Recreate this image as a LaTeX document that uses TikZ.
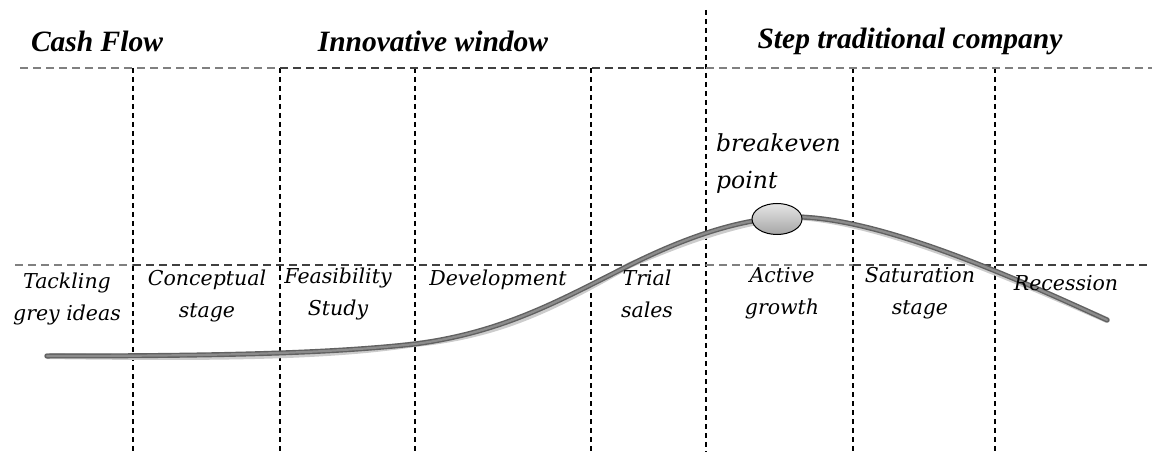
\documentclass[tikz,border=0pt]{standalone}
\usepackage{fontspec}
\setmainfont{Liberation Serif}
\newfontfamily\labfont{DejaVu Serif}
\usetikzlibrary{shapes.geometric}
\begin{document}
\begin{tikzpicture}[x=1pt,y=-1pt,
  vdash/.style={draw=black,line width=1.2pt,dash pattern=on 5pt off 4pt},
  hdash/.style={draw=black!75,line width=1.6pt,dash pattern=on 8pt off 5pt},
  hdashl/.style={draw=black!50,line width=1.6pt,dash pattern=on 8pt off 5pt},
  header/.style={font=\fontsize{29.5}{32}\selectfont\bfseries\itshape,inner sep=0pt},
  stage/.style={font=\labfont\fontsize{20.5}{32}\selectfont\itshape,align=center,inner sep=0pt},
  curve/.style={line cap=round}]
\useasboundingbox (0,0) rectangle (1152,457);
% grid coordinates
\coordinate (tl) at (20,68);  \coordinate (tr) at (1152,68);
\coordinate (ml) at (15,265); \coordinate (mr) at (1152,265);
\foreach \n/\x in {a/133,b/280,c/415,d/591,f/853,g/995}{
  \coordinate (\n t) at (\x,68); \coordinate (\n b) at (\x,452);
  \draw[vdash] (\n t) -- (\n b);
}
\coordinate (et) at (706,10); \coordinate (eb) at (706,452);
\draw[vdash] (et) -- (eb);
% horizontal lines
\coordinate (t1) at (280,68); \coordinate (t2) at (706,68);
\draw[hdashl] (tl) -- (t1);
\draw[hdash] (t1) -- (t2);
\draw[hdashl] (t2) -- (tr);
\coordinate (m1) at (133,265); \coordinate (m2) at (706,265); \coordinate (m3) at (853,265);
\draw[hdashl] (ml) -- (m1);
\draw[hdash] (m1) -- (m2);
\draw[hdashl] (m2) -- (m3);
\draw[hdash] (m3) -- (mr);
% headers
\node[header] (h1) at (97,41) {Cash Flow};
\node[header] (h2) at (433,41) {Innovative window};
\node[header] (h3) at (910,41) {Step traditional company};
% curve
\coordinate (c0) at (47,356);
\coordinate (c1) at (415,344);
\coordinate (c2) at (630,265);
\coordinate (c3) at (795,217);
\coordinate (c4) at (1107,320);
\def\curvepath{(c0) .. controls (250,356) and (340,352) .. (c1)
  .. controls (505,332) and (560,300) .. (c2)
  .. controls (680,240) and (740,217) .. (c3)
  .. controls (880,217) and (1020,280) .. (c4)}
\draw[curve,black!20,line width=6pt,shift={(1.5,3)}] \curvepath;
\draw[curve,black!62,line width=5pt] \curvepath;
\draw[curve,black!45,line width=2.2pt] \curvepath;
% breakeven point
\node[ellipse,draw=black,line width=1pt,top color=black!10,bottom color=black!35,minimum width=50pt,minimum height=31pt,inner sep=0pt] (bep) at (777,219) {};
\node[stage,font=\labfont\fontsize{23.5}{37}\selectfont\itshape,anchor=west,align=left] (bepl) at (716,164) {breakeven\\point};
% stage labels
\node[stage] (s1) at (67,299) {Tackling\\grey ideas};
\node[stage] (s2) at (207,296) {Conceptual\\stage};
\node[stage] (s3) at (338,294) {Feasibility\\Study};
\node[stage] (s4) at (498,280) {Development};
\node[stage] (s5) at (647,294) {Trial\\sales};
\node[stage] (s6) at (782,293) {Active\\growth};
\node[stage] (s7) at (920,293) {Saturation\\stage};
\node[stage] (s8) at (1066,283) {Recession};
\end{tikzpicture}
\end{document}
